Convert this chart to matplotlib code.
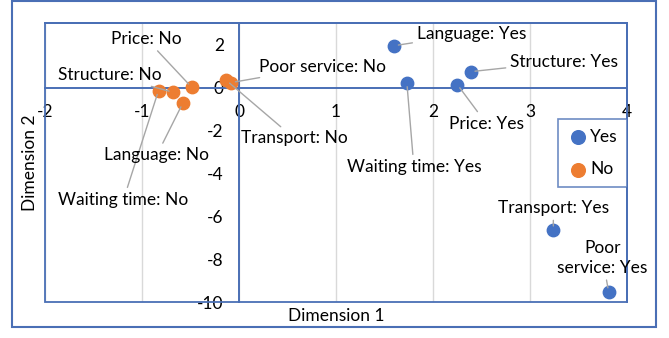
import matplotlib.pyplot as plt
from matplotlib.patches import Rectangle

plt.rcParams['font.family'] = ['Lato', 'DejaVu Sans']
plt.rcParams['axes.unicode_minus'] = False

# correspondence analysis coordinates
yes_labels = ['Language: Yes', 'Structure: Yes', 'Waiting time: Yes', 'Price: Yes',
              'Transport: Yes', 'Poor\nservice: Yes']
yes_x = [1.60, 2.39, 1.73, 2.25, 3.24, 3.81]
yes_y = [1.95, 0.74, 0.23, 0.14, -6.65, -9.53]

no_labels = ['Waiting time: No', 'Structure: No', 'Language: No', 'Price: No',
             'Transport: No', 'Poor service: No']
no_x = [-0.83, -0.68, -0.58, -0.49, -0.13, -0.08]
no_y = [-0.14, -0.22, -0.73, 0.02, 0.33, 0.23]

x_ticks = [-2, -1, 0, 1, 2, 3, 4]
y_ticks = [2, 0, -2, -4, -6, -8, -10]

# label offsets (pixels) from each point
yes_off = [(77, 12), (93, 10), (7, -84), (29, -39), (0, 22), (-6, 34)]
no_off = [(-35, -109), (-63, 17), (-26, -52), (-45, 48), (68, -58), (91, 16)]

BLUE = '#4472C4'
ORANGE = '#ED7D31'
FRAME = '#4a6fb5'
FS = 12.5

fig = plt.figure(figsize=(6.69, 3.38), dpi=100)
fig.patches.append(Rectangle((0.018, 0.0325), 0.963, 0.964, transform=fig.transFigure,
                             fill=False, edgecolor=FRAME, lw=1.5))
ax = fig.add_axes([0.0673, 0.1065, 0.870, 0.825])

ax.set_xlim(-2, 4)
ax.set_ylim(-10, 3)
ax.set_xticks(x_ticks)
ax.set_yticks(y_ticks)
ax.grid(axis='x', color='#d9d9d9', lw=1)
ax.set_axisbelow(True)

ax.spines['left'].set_position(('data', 0))
ax.spines['bottom'].set_position(('data', 0))
for s in ax.spines.values():
    s.set_color(FRAME)
    s.set_linewidth(1.4)
ax.add_patch(Rectangle((0, 0), 1, 1, transform=ax.transAxes, fill=False,
                       edgecolor=FRAME, lw=1.3, clip_on=False))
ax.tick_params(length=0, labelsize=FS)
ax.tick_params(axis='x', pad=12)
ax.tick_params(axis='y', pad=11)

ax.scatter(yes_x, yes_y, s=80, color=BLUE, label='Yes', zorder=3)
ax.scatter(no_x, no_y, s=80, color=ORANGE, label='No', zorder=3)

def label_points(xs, ys, labels, offs):
    for x, y, t, o in zip(xs, ys, labels, offs):
        ax.annotate(t, xy=(x, y), xytext=o, textcoords='offset pixels',
                    ha='center', va='center', fontsize=FS, linespacing=1.3,
                    arrowprops=dict(arrowstyle='-', color='#a6a6a6', lw=1,
                                    shrinkA=1, shrinkB=3))

label_points(yes_x, yes_y, yes_labels, yes_off)
label_points(no_x, no_y, no_labels, no_off)

ax.set_xlabel('Dimension 1', fontsize=FS, va='center')
ax.set_ylabel('Dimension 2', fontsize=FS, va='center')
ax.xaxis.set_label_coords(0.5, -0.05)
ax.yaxis.set_label_coords(-0.026, 0.5)

leg = ax.legend(loc='upper right', bbox_to_anchor=(1.0, 0.656), borderaxespad=0,
                fancybox=False, fontsize=FS, handletextpad=0.1, labelspacing=0.95,
                borderpad=0.55, handlelength=1.2, markerscale=1.1)
leg.get_frame().set_edgecolor(FRAME)
leg.get_frame().set_linewidth(1.2)

fig.savefig('out.png', dpi=100)
